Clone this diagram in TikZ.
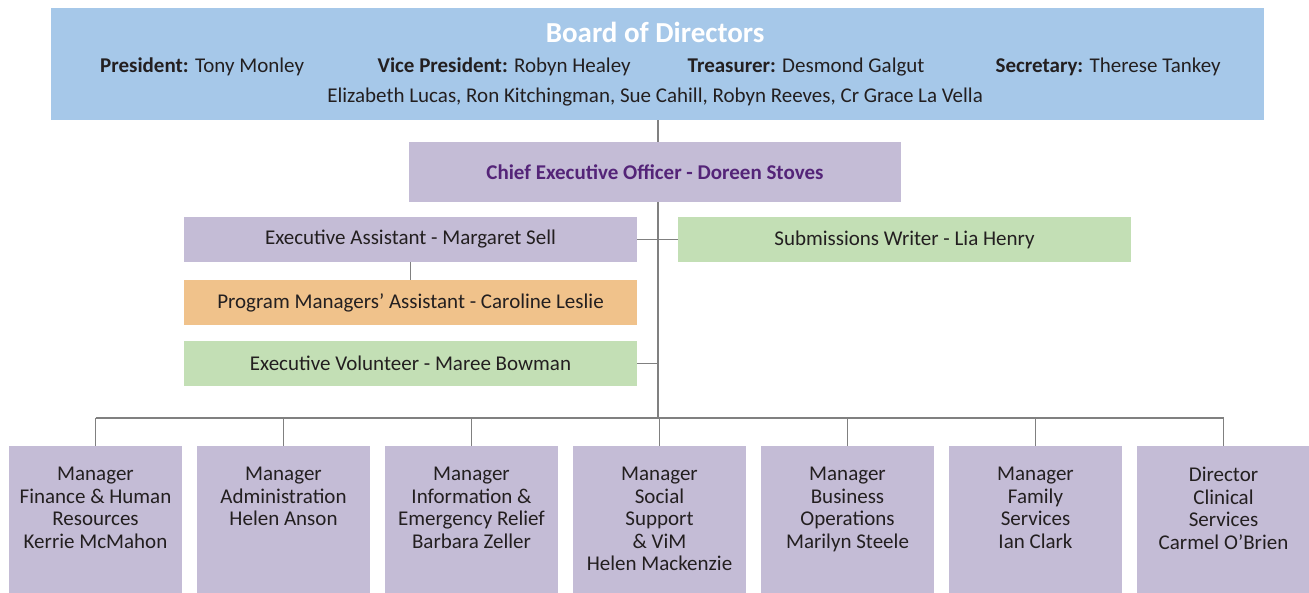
\documentclass[tikz,border=0pt]{standalone}
\usepackage{fontspec}
\setmainfont{Carlito}

\definecolor{boardblue}{RGB}{166,200,233}
\definecolor{staffpurple}{RGB}{196,188,214}
\definecolor{staffgreen}{RGB}{195,223,181}
\definecolor{stafforange}{RGB}{240,194,139}
\definecolor{ceotext}{RGB}{84,36,120}
\definecolor{textdark}{RGB}{35,31,32}
\definecolor{linegray}{RGB}{128,128,128}

% text of a manager box, set from the top
\newcommand{\mgrtext}[1]{\parbox[c][147pt][t]{173pt}{\centering\vspace*{21pt}#1}}

\tikzset{
    orgbox/.style={rectangle, inner sep=0pt, text=textdark, align=center,
        font=\fontsize{21}{22.5}\selectfont},
    staffbox/.style={orgbox, minimum width=453pt, minimum height=45pt},
    mgrbox/.style={orgbox, fill=staffpurple, minimum width=173pt, minimum height=147pt, anchor=north},
    link/.style={draw=linegray, line width=1.5pt}
}

\begin{document}
\begin{tikzpicture}[x=1pt, y=-1pt]
        \useasboundingbox (0,0) rectangle (1309,593);

        % Board of Directors
        \node[orgbox, fill=boardblue, minimum width=1209pt, minimum height=112pt] (board) at (657.5,64) {
            \parbox{1209pt}{\centering
                {\fontsize{29}{22}\selectfont\bfseries\color{white} Board of Directors}\\[8pt]
                \makebox[302pt]{\textbf{President:} Tony Monley}%
                \makebox[302pt]{\textbf{Vice President:} Robyn Healey}%
                \makebox[302pt]{\textbf{Treasurer:} Desmond Galgut}%
                \makebox[302pt]{\textbf{Secretary:} Therese Tankey}\\[7pt]
                Elizabeth Lucas, Ron Kitchingman, Sue Cahill, Robyn Reeves, Cr Grace La Vella}
        };

        % Chief executive and staff
        \node[orgbox, fill=staffpurple, minimum width=492pt, minimum height=60pt, text=ceotext, font=\fontsize{21}{22.5}\selectfont\bfseries] (ceo) at (655,172) {Chief Executive Officer - Doreen Stoves};
        \node[staffbox, fill=staffpurple] (assistant) at (410.5,239.5) {Executive Assistant - Margaret Sell};
        \node[staffbox, fill=staffgreen] (writer) at (904.5,239.5) {Submissions Writer - Lia Henry};
        \node[staffbox, fill=stafforange] (pmassistant) at (410.5,302.5) {Program Managers’ Assistant - Caroline Leslie};
        \node[staffbox, fill=staffgreen] (volunteer) at (410.5,363.5) {Executive Volunteer - Maree Bowman};

        % Managers
        \foreach \i/\txt in {1/{Manager\\Finance \& Human\\Resources\\Kerrie McMahon},
                             2/{Manager\\Administration\\Helen Anson},
                             3/{Manager\\Information \&\\Emergency Relief\\Barbara Zeller},
                             4/{Manager\\Social\\Support\\\& ViM\\Helen Mackenzie},
                             5/{Manager\\Business\\Operations\\Marilyn Steele},
                             6/{Manager\\Family\\Services\\Ian Clark},
                             7/{Director\\Clinical\\Services\\Carmel O’Brien}}
            \node[mgrbox] (m\i) at ({95.5+188*(\i-1)},446) {\mgrtext{\txt}};

        % Connectors
        \coordinate (trunk) at (658,418);
        \draw[link] (board.south -| trunk) -- (ceo.north -| trunk);
        \draw[link] (ceo.south -| trunk) -- (trunk);
        \draw[link] (assistant.east) -- (writer.west);
        \draw[link] (assistant.south) -- (pmassistant.north);
        \draw[link] (volunteer.east) -- (volunteer.east -| trunk);
        \draw[link] (m1.north |- trunk) -- (m7.north |- trunk); % bar
        \foreach \i in {1,...,7}
            \draw[link] (m\i.north |- trunk) -- (m\i.north);
    \end{tikzpicture}
\end{document}
